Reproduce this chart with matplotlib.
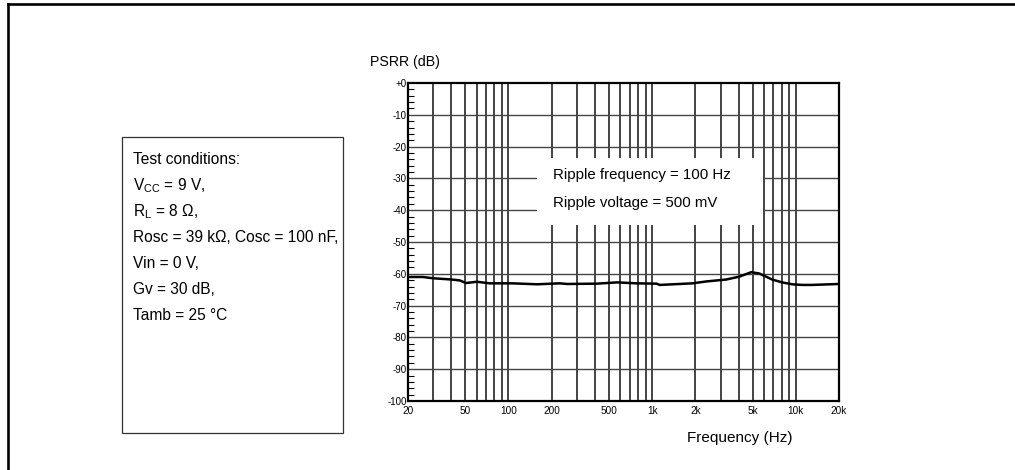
import matplotlib
matplotlib.use("Agg")
import matplotlib.pyplot as plt
from matplotlib.patches import Rectangle
from matplotlib.lines import Line2D
import numpy as np

plt.rcParams["font.family"] = ["Liberation Sans", "DejaVu Sans"]
plt.rcParams["mathtext.fontset"] = "custom"
plt.rcParams["mathtext.rm"] = "Liberation Sans"
plt.rcParams["mathtext.it"] = "Liberation Sans:italic"

# PSRR curve
freq_hz = [20, 20.6, 25.3, 29.8, 40.4, 46.0, 50.6, 60.4, 74.0, 107, 158, 228, 256,
           413, 570, 782, 1073, 1130, 1551, 1910, 2390, 3283, 4040, 4898, 5570,
           6850, 8040, 9440, 11080, 13000, 20000]
psrr_db = [-61.0, -61.0, -61.0, -61.4, -61.8, -62.1, -62.9, -62.5, -63.0, -63.0, -63.3,
           -63.0, -63.2, -63.1, -62.7, -63.0, -63.1, -63.5, -63.2, -63.0, -62.4, -61.8,
           -60.9, -59.5, -59.9, -61.8, -62.7, -63.3, -63.5, -63.5, -63.2]

xtick_vals = [20, 50, 100, 200, 500, 1000, 2000, 5000, 10000, 20000]
xtick_labels = ["20", "50", "100", "200", "500", "1k", "2k", "5k", "10k", "20k"]
ytick_vals = list(range(0, -101, -10))
ytick_labels = ["+0"] + [str(v) for v in ytick_vals[1:]]
vgrid = [30, 40, 50, 60, 70, 80, 90, 100, 200, 300, 400, 500, 600, 700, 800, 900,
         1000, 2000, 3000, 4000, 5000, 6000, 7000, 8000, 9000, 10000]

conditions = ["Test conditions:", r"V$_\mathrm{CC}$ = 9 V,", r"R$_\mathrm{L}$ = 8 Ω,",
              "Rosc = 39 kΩ, Cosc = 100 nF,", "Vin = 0 V,", "Gv = 30 dB,", "Tamb = 25 °C"]
ripple = ["Ripple frequency = 100 Hz", "Ripple voltage = 500 mV"]

W, H = 1015, 470
fig = plt.figure(figsize=(W / 100, H / 100), dpi=100)

# outer frame (top and left edge only)
fig.add_artist(Line2D([8 / W, 1], [1 - 3.5 / H, 1 - 3.5 / H], color="black", lw=1.9,
                      transform=fig.transFigure))
fig.add_artist(Line2D([8 / W, 8 / W], [0, 1 - 3.5 / H], color="black", lw=1.9,
                      transform=fig.transFigure))

# test-condition box
fig.add_artist(Rectangle((122 / W, 1 - 433 / H), (343 - 122) / W, (433 - 137) / H,
                         transform=fig.transFigure, fill=False, edgecolor="#333333", lw=0.9))
for i, s in enumerate(conditions):
    fig.text(133 / W, 1 - (160 + 26 * i) / H, s, fontsize=11.2, va="center", ha="left")

ax = fig.add_axes([408 / W, 1 - 401 / H, (839 - 408) / W, (401 - 83) / H])
ax.set_xscale("log")
ax.set_xlim(20, 20000)
ax.set_ylim(-100, 0)

for f in vgrid:
    ax.axvline(f, color="#111111", lw=1.1, zorder=1)
for v in ytick_vals[1:-1]:
    ax.axhline(v, color="#444444", lw=1.0, zorder=1)

ax.add_patch(Rectangle((0.299, 0.553), 0.525, 0.211, transform=ax.transAxes,
                       facecolor="white", edgecolor="none", zorder=3))
for i, s in enumerate(ripple):
    ax.text(0.336, 0.711 - 0.088 * i, s, transform=ax.transAxes, fontsize=10.8,
            va="center", ha="left", zorder=4)

ax.plot(freq_hz, psrr_db, color="black", lw=1.8, zorder=5)

ax.set_xticks(xtick_vals)
ax.set_xticklabels(xtick_labels)
ax.xaxis.set_minor_locator(matplotlib.ticker.NullLocator())
ax.tick_params(axis="x", length=0, labelsize=7.2, pad=3.5)
ax.set_yticks(ytick_vals)
ax.set_yticklabels(ytick_labels)
ax.set_yticks(np.arange(-98, 0, 2), minor=True)
ax.tick_params(axis="y", which="both", direction="in", length=4, width=0.8,
               labelsize=7.0, pad=1)
ax.tick_params(axis="y", which="major", length=0)
for sp in ax.spines.values():
    sp.set_linewidth(1.6)

fig.text(370 / W, 1 - 62 / H, "PSRR (dB)", fontsize=10.2, va="center", ha="left")
fig.text(687 / W, 1 - 438 / H, "Frequency (Hz)", fontsize=11.0, va="center", ha="left")

fig.savefig("out.png", dpi=100)
